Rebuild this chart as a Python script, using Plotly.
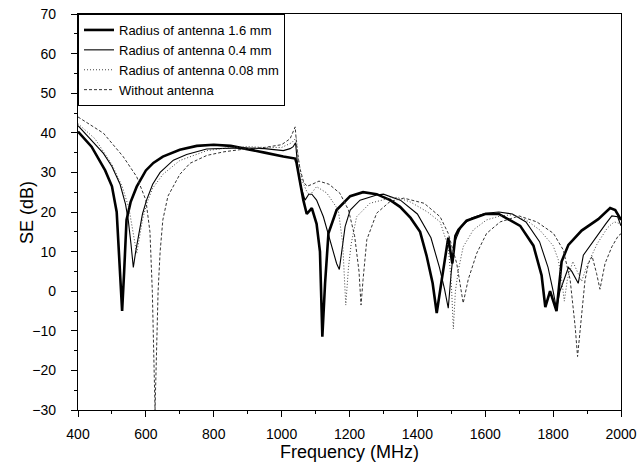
import plotly.graph_objects as go

# Radius of antenna 1.6 mm (thick solid)
f_16 = [400, 440, 480, 500, 514, 522, 530, 536, 543, 555, 573, 600, 622, 650, 680, 700, 750, 800, 850, 907, 950, 1005, 1040,
        1044, 1064, 1074, 1089, 1103, 1113, 1120, 1128, 1138, 1162, 1202, 1240, 1280, 1320, 1349, 1380, 1408, 1427, 1445,
        1457, 1472, 1485, 1491, 1503, 1512, 1521, 1545, 1600, 1640, 1703, 1742, 1766, 1777, 1791, 1810, 1825, 1845, 1884,
        1933, 1968, 1983, 2000]
se_16 = [40.3, 36.5, 30.5, 26.5, 20, 8, -5, 5, 18, 22.5, 26.4, 30.5, 32.4, 34, 35, 35.7, 36.7, 37, 36.7, 35.8, 35, 34, 33.5,
         32.4, 23, 19.5, 21, 17, 10, -11.5, 2, 14.6, 20.5, 24, 25, 24.5, 23, 21.3, 18.5, 15, 9, 2,
         -5.5, 3, 11, 13.5, 7, 14, 15.5, 17.8, 19.5, 19.5, 16.5, 11.5, 4, -4, 0, -5, 7.5, 11.7, 15.3,
         18.2, 21, 20.5, 18]

# Radius of antenna 0.4 mm (thin solid)
f_04 = [400, 440, 475, 500, 524, 540, 548, 556, 563, 570, 578, 590, 602, 620, 642, 681, 720, 779, 877, 950, 1005, 1025, 1034,
        1041, 1048, 1054, 1069, 1080, 1089, 1103, 1123, 1148, 1162, 1170, 1180, 1187, 1202, 1231, 1280, 1300, 1350, 1400,
        1440, 1465, 1480, 1491, 1500, 1510, 1530, 1560, 1600, 1640, 1680, 1720, 1760, 1785, 1800, 1810, 1820, 1835, 1845,
        1855, 1874, 1889, 1924, 1955, 1973, 1990, 2000]
se_04 = [41.8, 38, 34.8, 31.5, 27, 22, 18, 12, 6, 10, 14, 19.5, 23, 27, 30, 33.1, 34.5, 35.9, 36.2, 36, 35.5, 36, 36.5,
         37.5, 31, 27.3, 23, 24.5, 24.5, 23, 18.8, 11.2, 7, 5.5, 12, 16.3, 20.5, 23, 24.3, 24.5, 23, 19.5,
         13.5, 6, 0.5, -4.3, 5, 12.5, 16.5, 18.5, 19.7, 20, 19.5, 17.5, 12.5, 6, 0, -4.5, 0, 3.3, 6,
         5, 2, 9.1, 13.4, 17, 19, 18.8, 16.5]

# Radius of antenna 0.08 mm (dotted)
f_008 = [400, 450, 500, 530, 550, 562, 573, 580, 590, 602, 620, 650, 700, 780, 850, 900, 950, 1000, 1030, 1043, 1050, 1060,
         1075, 1084, 1103, 1133, 1167, 1180, 1189, 1197, 1205, 1221, 1260, 1319, 1340, 1380, 1430, 1467, 1491, 1500, 1506,
         1512, 1521, 1535, 1565, 1604, 1644, 1680, 1720, 1760, 1800, 1815, 1825, 1833, 1842, 1858, 1870, 1884, 1900, 1930,
         1960, 1980, 2000]
se_008 = [42.3, 38.5, 32, 26.5, 21, 15, 9.5, 13, 18, 22, 26, 29.5, 33, 35.5, 36.3, 36.5, 36.3, 36.3, 37.5, 38.8, 33, 28,
          25, 24.3, 26.4, 24.8, 20.5, 12, -3.5, 6, 12, 18.8, 22.2, 23.5, 23.7, 22.5, 20, 17.5, 11.2, 2, -9.5,
          0, 5.4, 11.2, 15.5, 18, 19, 19.3, 18, 15.5, 11.5, 8, 3, -2.5, 3, 7.5, 5, 2.5, 6.5, 12,
          16, 17.5, 17]

# Without antenna (dashed)
f_no = [400, 475, 533, 573, 600, 612, 619, 624, 627, 630, 636, 642, 650, 665, 700, 730, 780, 830, 900, 950, 1000, 1025, 1040,
        1045, 1054, 1065, 1075, 1090, 1110, 1140, 1172, 1197, 1215, 1228, 1234, 1240, 1251, 1280, 1320, 1360, 1420, 1467,
        1491, 1516, 1535, 1550, 1575, 1604, 1644, 1700, 1752, 1801, 1830, 1850, 1865, 1872, 1884, 1894, 1904, 1915, 1928,
        1938, 1953, 1973, 1992, 2000]
se_no = [44, 39.9, 34, 28.9, 23, 15, 0, -20, -30, -20, 0, 10, 18, 24, 29.5, 32.3, 34.3, 35.2, 36, 36.3, 37, 38.5, 41.5,
         36, 31, 27.5, 26.5, 27, 27.8, 27, 24.7, 20.5, 14, 5, -3.5, 3, 13, 19.7, 22.7, 23.5, 22.2, 18.8,
         14.6, 7, -3, 3, 9.6, 14.6, 17.5, 19, 17.5, 14.6, 10.4, 3, -9, -16.5, -5.6, 2.8, 7, 8.8, 4.5,
         0.5, 7, 11.2, 14, 14.5]

FONT = "Liberation Sans, Arial, sans-serif"

fig = go.Figure()
fig.add_trace(go.Scatter(x=f_16, y=se_16, mode="lines", name="Radius of antenna 1.6 mm",
                         line=dict(color="black", width=2.6)))
fig.add_trace(go.Scatter(x=f_04, y=se_04, mode="lines", name="Radius of antenna 0.4 mm",
                         line=dict(color="black", width=1.1)))
fig.add_trace(go.Scatter(x=f_008, y=se_008, mode="lines", name="Radius of antenna 0.08 mm",
                         line=dict(color="#444444", width=1, dash="1px,2px")))
fig.add_trace(go.Scatter(x=f_no, y=se_no, mode="lines", name="Without antenna",
                         line=dict(color="#333333", width=1, dash="3px,2px")))

axis_common = dict(showgrid=False, zeroline=False, showline=True, linecolor="black", linewidth=1.3,
                   mirror=True, ticks="outside", ticklen=6, tickcolor="black",
                   tickfont=dict(family=FONT, size=14, color="black"))

fig.update_xaxes(range=[400, 2000], dtick=200, tick0=400, ticklabelstandoff=5,
                 minor=dict(ticks="outside", ticklen=3, dtick=100, tickcolor="black"),
                 title=dict(text="Frequency (MHz)", font=dict(size=18, family=FONT, color="black"),
                            standoff=4),
                 **axis_common)
fig.update_yaxes(range=[-30, 70], dtick=10, tick0=-30, ticklabelstandoff=12,
                 minor=dict(ticks="outside", ticklen=3, dtick=5, tickcolor="black"),
                 **axis_common)

fig.update_layout(
    width=640, height=467,
    margin=dict(l=78, r=19, t=14, b=57, autoexpand=False),
    paper_bgcolor="white", plot_bgcolor="white",
    font=dict(family=FONT, color="black"),
    legend=dict(x=0, y=1, xanchor="left", yanchor="top", bgcolor="white",
                bordercolor="black", borderwidth=1,
                font=dict(size=13, family=FONT, color="black"),
                tracegroupgap=0, itemwidth=30),
    showlegend=True,
    annotations=[dict(text="SE (dB)", textangle=-90, xref="paper", yref="paper",
                      x=-0.094, y=0.5, xanchor="center", yanchor="middle", showarrow=False,
                      font=dict(size=18, family=FONT, color="black"))],
)

fig.write_html("out.html")
